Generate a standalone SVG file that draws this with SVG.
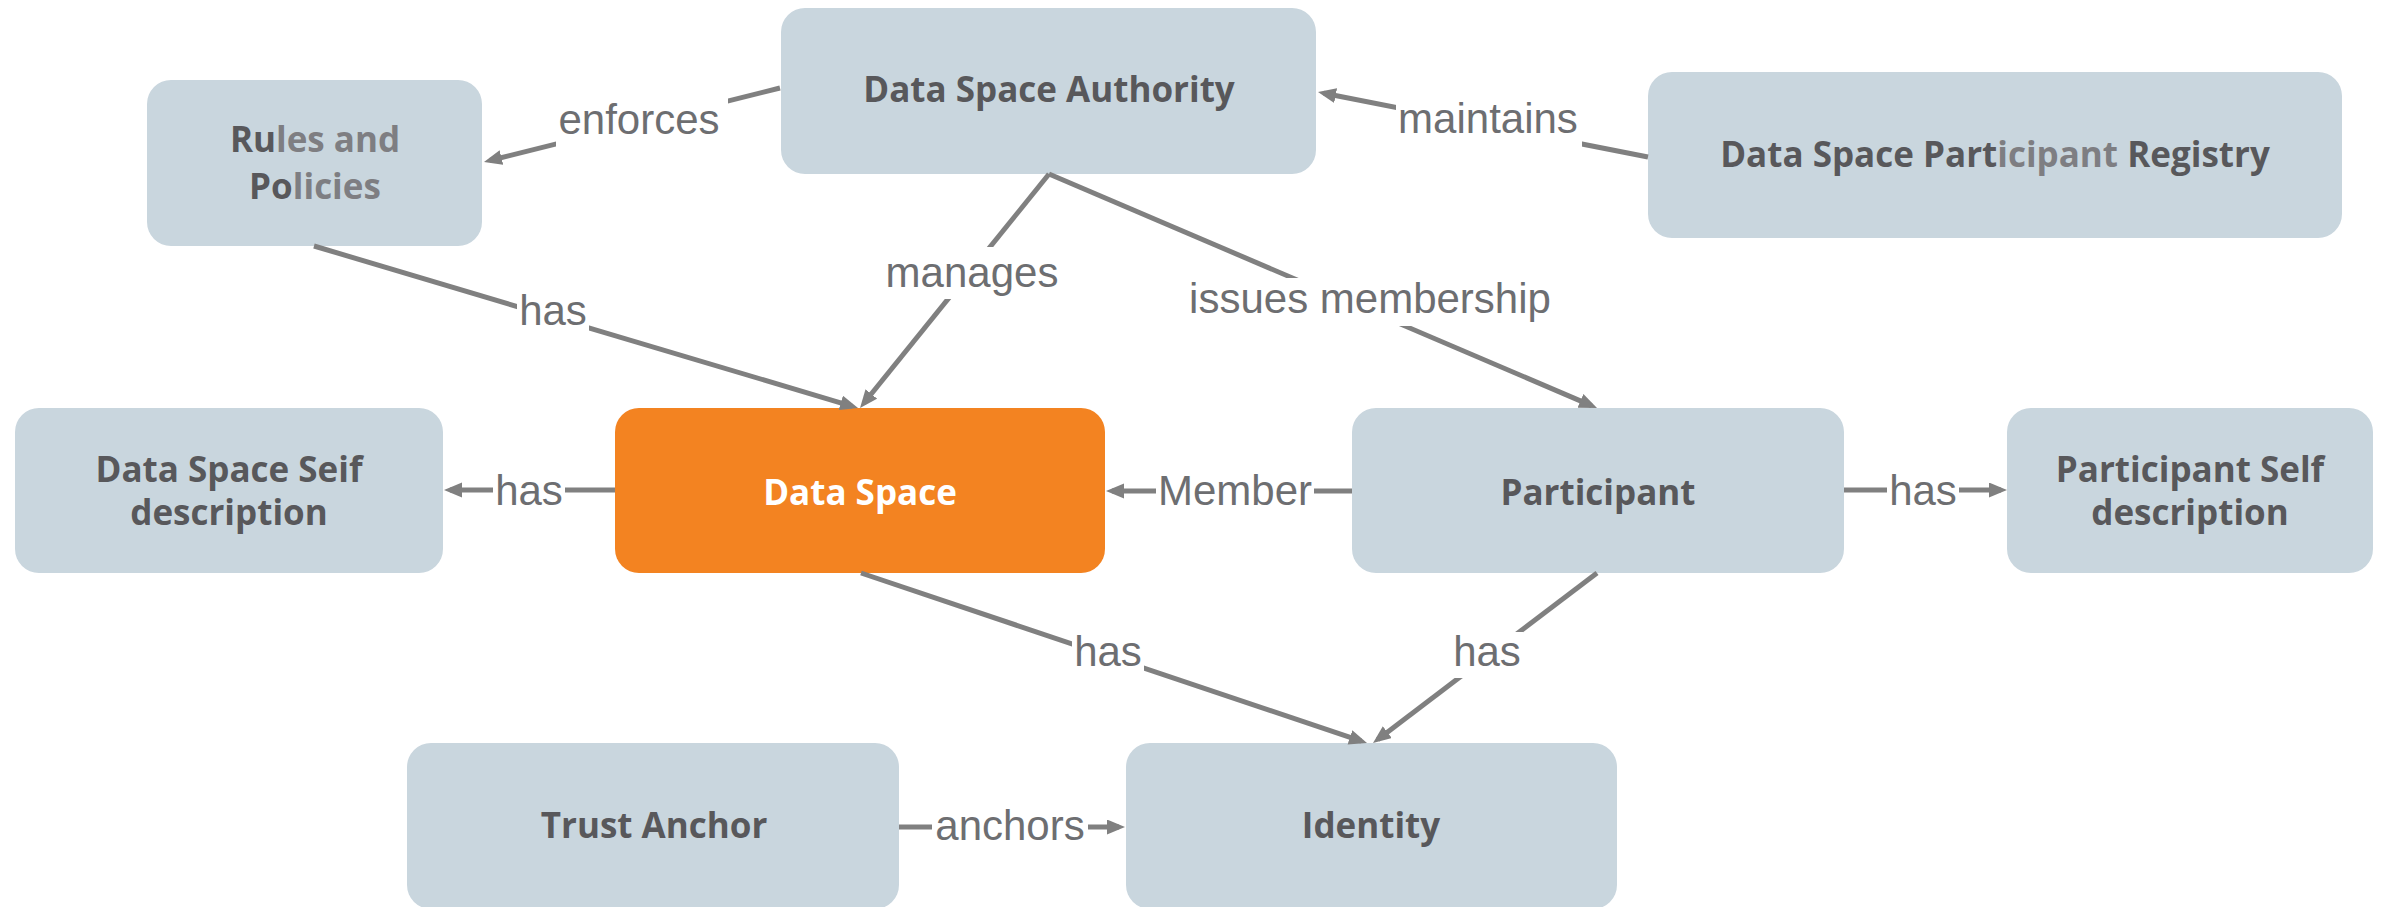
<svg xmlns="http://www.w3.org/2000/svg" width="2382" height="907" viewBox="0 0 2382 907">
<defs>
<marker id="ah" markerUnits="userSpaceOnUse" markerWidth="20" markerHeight="16" refX="12" refY="7.5" orient="auto">
<path d="M0,0 L18,7.5 L0,15 z" fill="#808080"/>
</marker>
<style>
.box{fill:#C9D6DE;}
.hub{fill:#F38321;}
.nt{font-family:"Open Sans","Noto Sans","DejaVu Sans",sans-serif;font-weight:700;font-size:35px;fill:#58585B;text-anchor:middle;}
.lt{fill:#7E7E82;}
.wt{fill:#FFFFFF;}
.edge{stroke:#808080;stroke-width:5;fill:none;marker-end:url(#ah);}
.bg{fill:#FFFFFF;}
.el{font-family:"Liberation Sans",Arial,sans-serif;font-size:42px;fill:#6D6E71;text-anchor:middle;}
</style>
</defs>
<rect width="2382" height="907" fill="#FFFFFF"/>

<g id="nodes">
<g id="rules">
<rect class="box" x="147" y="80" width="335" height="166" rx="24"/>
<text class="nt" x="315" y="152">Ru<tspan class="lt">les and</tspan></text>
<text class="nt" x="315" y="199">Po<tspan class="lt">licies</tspan></text>
</g>
<g id="authority">
<rect class="box" x="781" y="8" width="535" height="166" rx="24"/>
<text class="nt" x="1049" y="102">Data Space Authority</text>
</g>
<g id="registry">
<rect class="box" x="1648" y="72" width="694" height="166" rx="24"/>
<text class="nt" x="1995" y="167">Data Space Part<tspan class="lt">icipant</tspan> Registry</text>
</g>
<g id="seif">
<rect class="box" x="15" y="408" width="428" height="165" rx="24"/>
<text class="nt" x="229" y="482">Data Space Seif</text>
<text class="nt" x="229" y="525">description</text>
</g>
<g id="dataspace">
<rect class="hub" x="615" y="408" width="490" height="165" rx="24"/>
<text class="nt wt" x="860" y="505">Data Space</text>
</g>
<g id="participant">
<rect class="box" x="1352" y="408" width="492" height="165" rx="24"/>
<text class="nt" x="1598" y="505">Participant</text>
</g>
<g id="selfdesc">
<rect class="box" x="2007" y="408" width="366" height="165" rx="24"/>
<text class="nt" x="2190" y="482">Participant Self</text>
<text class="nt" x="2190" y="525">description</text>
</g>
<g id="trust">
<rect class="box" x="407" y="743" width="492" height="166" rx="24"/>
<text class="nt" x="654" y="838">Trust Anchor</text>
</g>
<g id="identity">
<rect class="box" x="1126" y="743" width="491" height="166" rx="24"/>
<text class="nt" x="1371" y="838">Identity</text>
</g>
</g>

<g id="connectors">
<line class="edge" x1="780" y1="88" x2="489.8" y2="160.5"/>
<line class="edge" x1="1648" y1="157" x2="1323.9" y2="93.2"/>
<line class="edge" x1="1049" y1="174" x2="863.8" y2="403.3"/>
<line class="edge" x1="314" y1="246" x2="852.3" y2="406.3"/>
<line class="edge" x1="1049" y1="174" x2="1591.5" y2="405.6"/>
<line class="edge" x1="615" y1="490" x2="450" y2="490"/>
<line class="edge" x1="1352" y1="491" x2="1112" y2="491"/>
<line class="edge" x1="1844" y1="490" x2="2001" y2="490"/>
<line class="edge" x1="861" y1="573" x2="1361.3" y2="741.1"/>
<line class="edge" x1="1597" y1="573" x2="1377.8" y2="739.4"/>
<line class="edge" x1="899" y1="827" x2="1119" y2="827"/>

<rect class="bg" x="556" y="96" width="172" height="52"/>
<rect class="bg" x="884" y="247" width="176" height="52"/>
<rect class="bg" x="1186" y="278" width="368" height="48"/>
<rect class="bg" x="1396" y="97" width="186" height="50"/>
<rect class="bg" x="517" y="290" width="72" height="46"/>
<rect class="bg" x="493" y="470" width="72" height="45"/>
<rect class="bg" x="1156" y="470" width="158" height="45"/>
<rect class="bg" x="1887" y="470" width="72" height="45"/>
<rect class="bg" x="1072" y="630" width="72" height="47"/>
<rect class="bg" x="1451" y="632" width="72" height="46"/>
<rect class="bg" x="932" y="805" width="156" height="46"/>

<text class="el" x="639" y="134">enforces</text>
<text class="el" x="972" y="287">manages</text>
<text class="el" x="1370" y="313">issues membership</text>
<text class="el" x="1488" y="133">maintains</text>
<text class="el" x="553" y="325">has</text>
<text class="el" x="529" y="505">has</text>
<text class="el" x="1235" y="505">Member</text>
<text class="el" x="1923" y="505">has</text>
<text class="el" x="1108" y="666">has</text>
<text class="el" x="1487" y="666">has</text>
<text class="el" x="1010" y="840">anchors</text>
</g>
</svg>
